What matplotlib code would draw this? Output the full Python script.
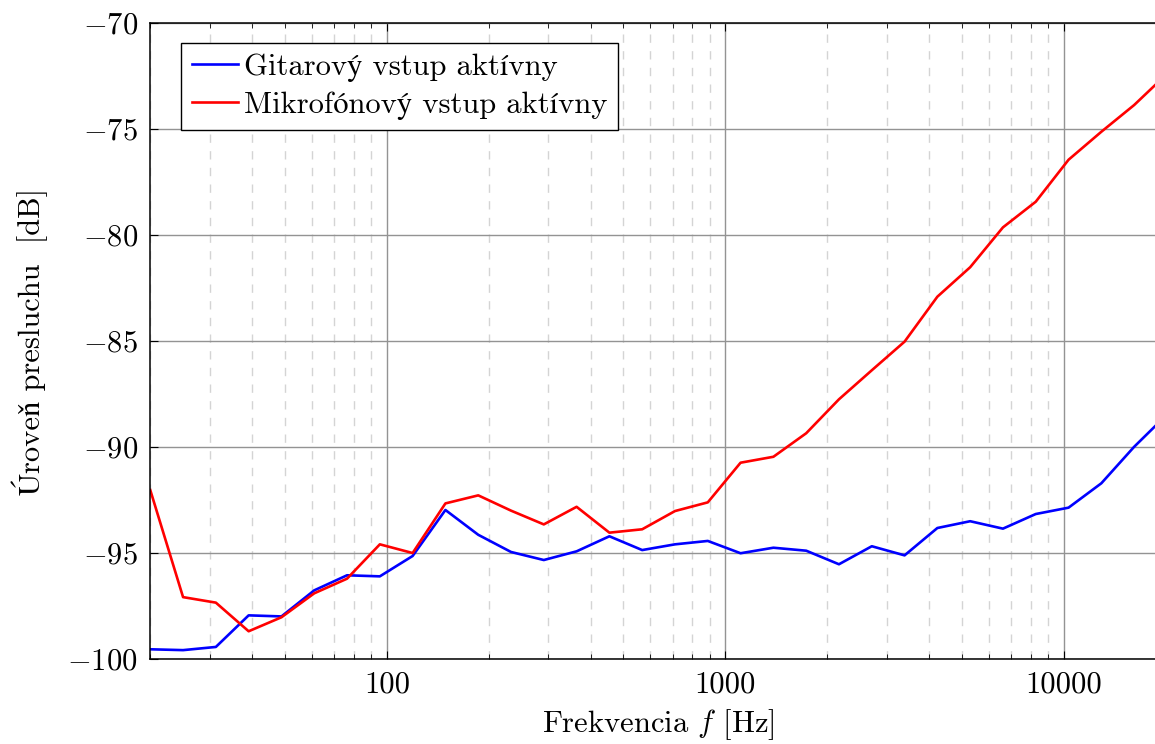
import numpy as np
import matplotlib
matplotlib.use('Agg')
import matplotlib.pyplot as plt
from matplotlib.ticker import LogLocator, NullFormatter, MultipleLocator

plt.rcParams['font.family'] = ['cmr10', 'STIXGeneral']
plt.rcParams['mathtext.fontset'] = 'cm'
plt.rcParams['axes.formatter.use_mathtext'] = True
plt.rcParams['axes.unicode_minus'] = True

# frekvencie (krok 1.25x od 20 Hz)
frekvencie = [20, 25, 31.25, 39.06, 48.83, 61.04, 76.29, 95.37, 119.2, 149.0,
              186.3, 232.8, 291.0, 363.8, 454.7, 568.4, 710.5, 888.2, 1110, 1388,
              1735, 2168, 2711, 3388, 4235, 5294, 6617, 8272, 10340, 12925,
              16156, 20195]

# Gitarovy vstup aktivny
gitara = [-99.54, -99.58, -99.43, -97.94, -97.99, -96.76, -96.05, -96.10, -95.14, -92.97,
          -94.14, -94.95, -95.33, -94.92, -94.21, -94.86, -94.59, -94.43, -95.01, -94.75,
          -94.89, -95.53, -94.68, -95.11, -93.82, -93.50, -93.85, -93.16, -92.86, -91.71,
          -89.99, -88.47]

# Mikrofonovy vstup aktivny
mikrofon = [-92.03, -97.08, -97.34, -98.69, -98.03, -96.90, -96.21, -94.59, -95.00, -92.66,
            -92.28, -93.00, -93.65, -92.82, -94.04, -93.88, -93.02, -92.61, -90.74, -90.46,
            -89.35, -87.75, -86.38, -85.03, -82.91, -81.52, -79.64, -78.43, -76.45, -75.13,
            -73.87, -72.40]

fig = plt.figure(figsize=(11.55, 7.44), dpi=100)
ax = fig.add_axes([0.1301, 0.1142, 0.879, 0.8549])

ax.plot(frekvencie, gitara, color='blue', lw=1.9, label='Gitarový vstup aktívny')
ax.plot(frekvencie, mikrofon, color='red', lw=1.9, label='Mikrofónový vstup aktívny')

ax.set_xscale('log')
ax.set_xlim(20, 20000)
ax.set_ylim(-100, -70)
ax.set_xticks([100, 1000, 10000])
ax.set_xticklabels(['100', '1000', '10000'])
ax.xaxis.set_minor_locator(LogLocator(base=10, subs=np.arange(2, 10)))
ax.xaxis.set_minor_formatter(NullFormatter())
ax.yaxis.set_major_locator(MultipleLocator(5))

ax.grid(which='major', color='#939393', lw=1.0, ls='-')
ax.grid(which='minor', axis='x', color='#d4d4d4', lw=1.0, ls=(0, (6, 6)))
ax.set_axisbelow(True)

ax.tick_params(which='both', direction='in', top=True, right=True, labelsize=22, pad=9)
ax.tick_params(which='major', length=6)
ax.tick_params(which='minor', length=3.5)
for s in ax.spines.values():
    s.set_linewidth(1.1)

ax.set_xlabel('Frekvencia $f$ [Hz]', fontsize=22, labelpad=6)
ax.set_ylabel('Úroveň presluchu  [dB]', fontsize=22, labelpad=14)

leg = ax.legend(loc='upper left', bbox_to_anchor=(181 / 1155, 1 - 42.7 / 744),
                bbox_transform=fig.transFigure, fontsize=22, fancybox=False,
                framealpha=1, edgecolor='black', borderaxespad=0, handlelength=1.5,
                handletextpad=0.2, borderpad=0.35, labelspacing=0.3)
leg.get_frame().set_linewidth(1.0)

fig.savefig('out.png', dpi=100)
